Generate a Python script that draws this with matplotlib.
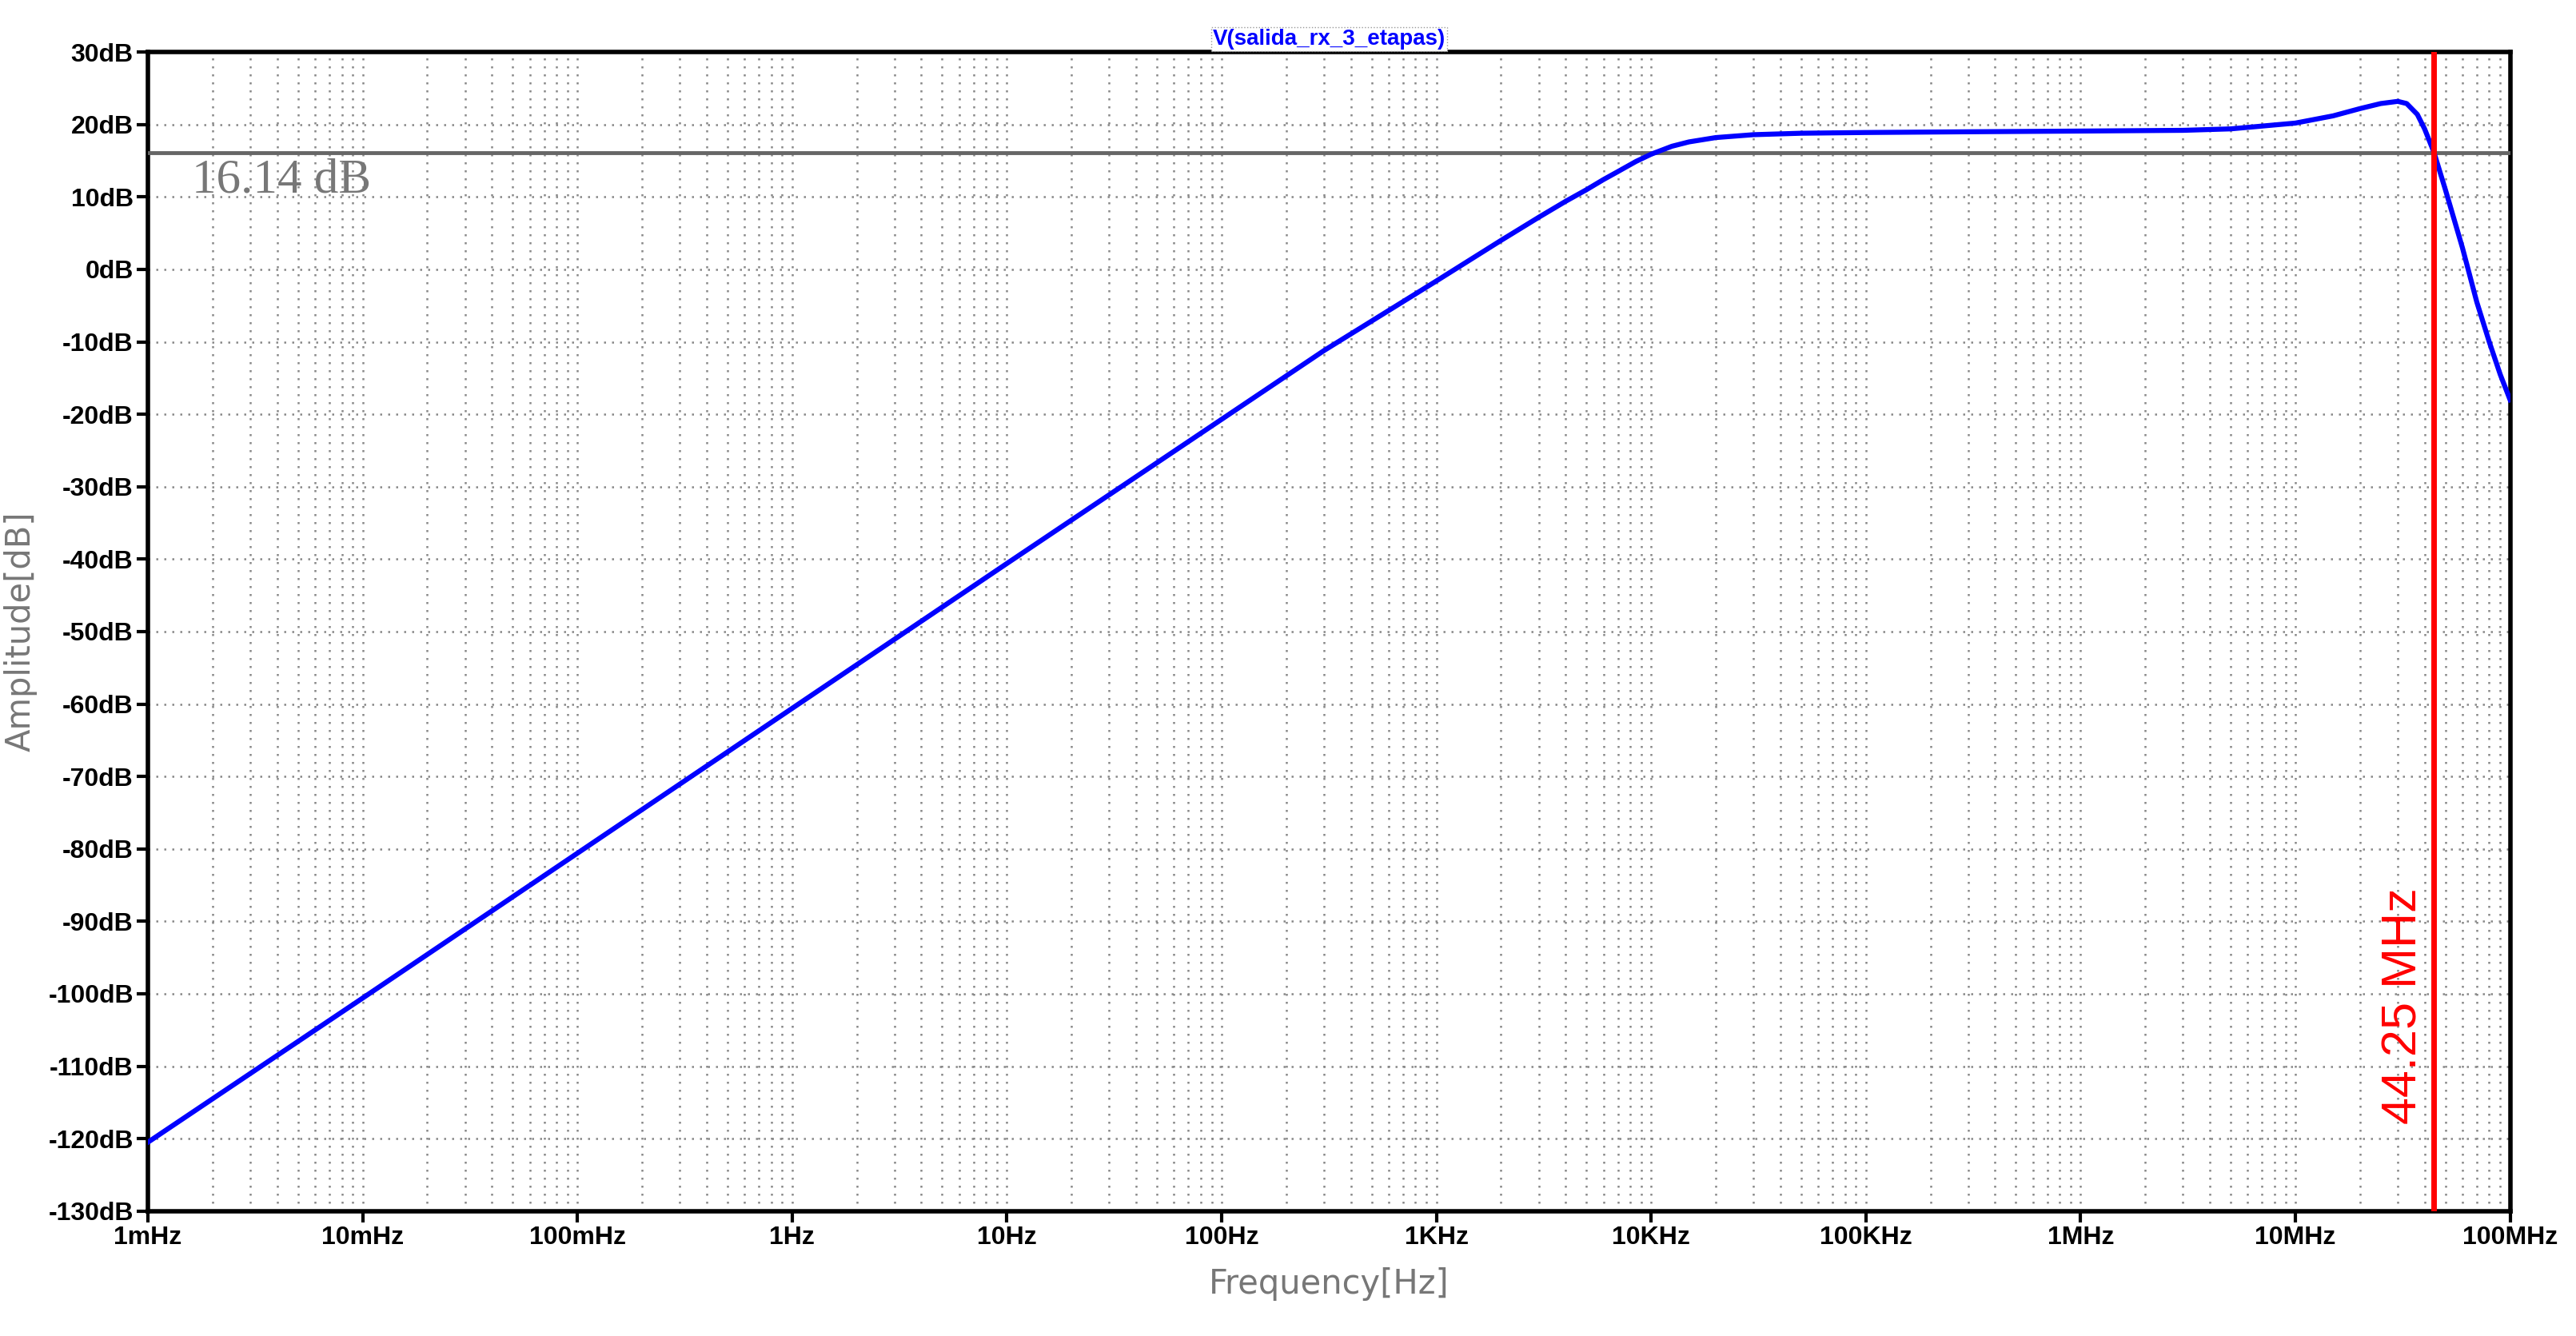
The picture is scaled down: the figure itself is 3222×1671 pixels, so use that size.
import numpy as np
import matplotlib.pyplot as plt
from matplotlib.ticker import FixedLocator, LogLocator, NullFormatter

# frequency response
freq = [1e-3, 1e-2, 1e-1, 1, 10, 100, 300, 1e3, 2e3, 3e3, 4e3, 5e3, 6e3, 7e3, 8.5e3, 1e4,
        1.25e4, 1.5e4, 2e4, 3e4, 5e4, 1e5, 3e5, 1e6, 3e6, 5e6, 1e7, 1.5e7, 2e7, 2.5e7, 3e7,
        3.3e7, 3.7e7, 4.0e7, 4.425e7, 5e7, 6e7, 7e7, 8e7, 9e7, 1e8]
gain = [-120.5, -100.6, -80.6, -60.6, -40.6, -20.7, -11.2, -1.6, 4.0, 7.2, 9.4, 11.0, 12.4,
        13.5, 14.9, 15.9, 17.0, 17.6, 18.2, 18.6, 18.8, 18.9, 19.0, 19.1, 19.2, 19.4, 20.2,
        21.2, 22.2, 22.9, 23.2, 22.9, 21.4, 19.4, 16.14, 11.0, 3.0, -4.5, -10.0, -14.5, -18.0]

ref_level = 16.14
marker_freq = 44.25e6

xticks = [1e-3, 1e-2, 1e-1, 1, 10, 100, 1e3, 1e4, 1e5, 1e6, 1e7, 1e8]
xlabels = ["1mHz", "10mHz", "100mHz", "1Hz", "10Hz", "100Hz", "1KHz", "10KHz",
           "100KHz", "1MHz", "10MHz", "100MHz"]
yticks = list(range(-130, 31, 10))
ylabels = [f"{v}dB" for v in yticks]

fig = plt.figure(figsize=(32.22, 16.71), dpi=100)
ax = fig.add_axes([0.0574, 0.0935, 0.917, 0.8675])

ax.set_xscale("log")
ax.set_xlim(1e-3, 1e8)
ax.set_ylim(-130, 30)

ax.xaxis.set_major_locator(FixedLocator(xticks))
ax.xaxis.set_minor_locator(LogLocator(base=10, subs=np.arange(2, 10), numticks=100))
ax.xaxis.set_minor_formatter(NullFormatter())
ax.set_xticklabels(xlabels)
ax.set_yticks(yticks)
ax.set_yticklabels(ylabels)

ax.grid(True, which="both", axis="x", color="#888888", linestyle=(0, (1, 3)), linewidth=1.8)
ax.grid(True, which="major", axis="y", color="#888888", linestyle=(0, (1, 3)), linewidth=1.8)

for lab in ax.get_xticklabels() + ax.get_yticklabels():
    lab.set_fontweight("bold")
    lab.set_family("Liberation Sans")
ax.tick_params(axis="both", which="major", labelsize=23, length=10, width=3, direction="out", pad=3)
ax.tick_params(axis="x", which="minor", length=0)
for s in ax.spines.values():
    s.set_linewidth(4)

ax.plot(freq, gain, color="#0000ff", linewidth=4.5, zorder=4)
ax.axhline(ref_level, color="#666666", linewidth=3.5, zorder=3)
ax.axvline(marker_freq, color="#ff0000", linewidth=5, zorder=5)

ax.text(1.6e-3, ref_level - 0.8, "16.14 dB", color="#777777", fontsize=44,
        family="Liberation Serif", va="top", ha="left")
ax.text(marker_freq * 0.93, -118, "44.25 MHz", color="#ff0000", fontsize=44,
        family="Liberation Sans", rotation=90, va="bottom", ha="right")

ax.set_xlabel("Frequency[Hz]", fontsize=30, color="#777777", labelpad=16)
ax.set_ylabel("Amplitude[dB]", fontsize=30, color="#777777", labelpad=10)

ax.text(0.5, 1.002, "V(salida_rx_3_etapas)", transform=ax.transAxes, ha="center", va="bottom",
        fontsize=20, color="#0000ff", fontweight="bold", family="Liberation Sans",
        bbox=dict(facecolor="white", edgecolor="#999999", linestyle=":", pad=1.5))

fig.savefig("out.png", dpi=100)
